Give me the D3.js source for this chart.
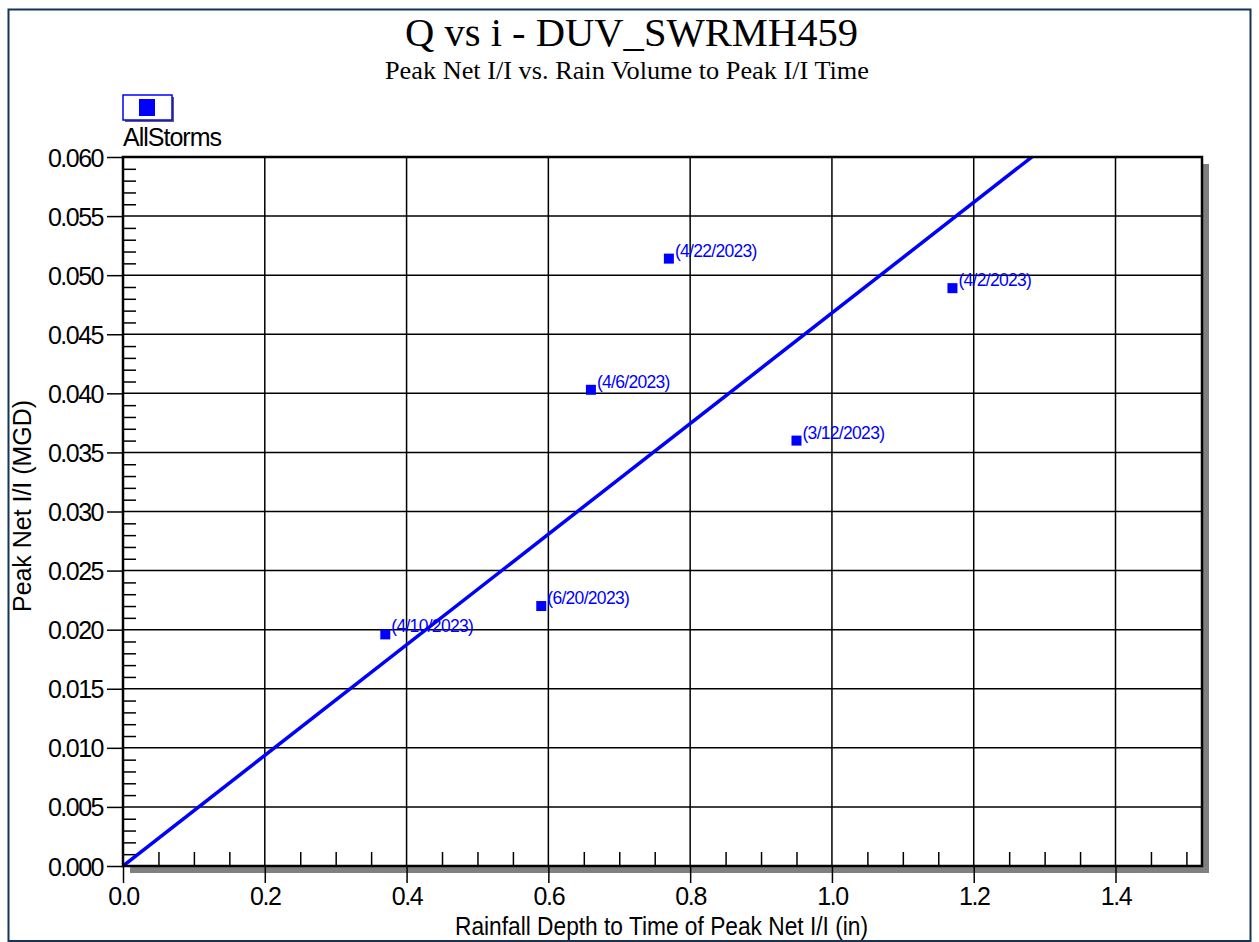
<!DOCTYPE html>
<html>
<head>
<meta charset="utf-8">
<script src="https://cdn.jsdelivr.net/npm/d3@7"></script>
<style>
  html, body { margin: 0; padding: 0; background: #fff; }
  svg { display: block; }
  .sans { font-family: "Liberation Sans", Arial, sans-serif; }
  .serif { font-family: "Liberation Serif", "Times New Roman", serif; }
</style>
</head>
<body>
<svg id="chart" width="1259" height="942"></svg>
<script>
// Storm events: rainfall depth to time of peak (in) and peak net I/I (MGD)
const stormDates = ["4/22/2023", "4/6/2023", "4/2/2023", "3/12/2023", "4/10/2023", "6/20/2023"];
const rainDepth  = [0.77, 0.66, 1.17, 0.95, 0.37, 0.59];
const peakNetII  = [0.0514, 0.0403, 0.0489, 0.0360, 0.0196, 0.0220];

// Fitted line through the origin (MGD per inch of rain)
const trendSlope = 0.0468;

// Axis ticks
const xTicks = [0.0, 0.2, 0.4, 0.6, 0.8, 1.0, 1.2, 1.4];
const yTicks = [0.000, 0.005, 0.010, 0.015, 0.020, 0.025, 0.030, 0.035, 0.040, 0.045, 0.050, 0.055, 0.060];
const xDomain = [0, 1.522];
const yDomain = [0, 0.060];

const titleText = "Q vs i - DUV_SWRMH459";
const subtitleText = "Peak Net I/I vs. Rain Volume to Peak I/I Time";
const xLabel = "Rainfall Depth to Time of Peak Net I/I (in)";
const yLabel = "Peak Net I/I (MGD)";
const seriesName = "AllStorms";

const svg = d3.select("#chart");
const W = 1259, H = 942;
const plot = { left: 123, top: 157, right: 1202, bottom: 866 };

const x = d3.scaleLinear().domain(xDomain).range([plot.left, plot.right]);
const y = d3.scaleLinear().domain(yDomain).range([plot.bottom, plot.top]);

const BLUE = "#0000ff";

// Outer frame
svg.append("rect")
  .attr("x", 8.5).attr("y", 9.5).attr("width", W - 17).attr("height", H - 10.5)
  .attr("fill", "#fff").attr("stroke", "#15345a").attr("stroke-width", 2);

// Titles
svg.append("text").attr("class", "serif")
  .attr("x", 405).attr("y", 46)
  .attr("font-size", 39).attr("textLength", 453).attr("lengthAdjust", "spacingAndGlyphs")
  .text(titleText);
svg.append("text").attr("class", "serif")
  .attr("x", 385).attr("y", 79)
  .attr("font-size", 25).attr("textLength", 484).attr("lengthAdjust", "spacingAndGlyphs")
  .text(subtitleText);

// Plot shadow and background
svg.append("rect")
  .attr("x", plot.left + 7).attr("y", plot.top + 7)
  .attr("width", plot.right - plot.left).attr("height", plot.bottom - plot.top)
  .attr("fill", "#808080");
svg.append("rect")
  .attr("x", plot.left).attr("y", plot.top)
  .attr("width", plot.right - plot.left).attr("height", plot.bottom - plot.top)
  .attr("fill", "#fff");

// Grid lines
const grid = svg.append("g");
grid.selectAll("line.vg").data(xTicks.filter(d => d > 0)).enter().append("line")
  .attr("x1", d => x(d)).attr("x2", d => x(d))
  .attr("y1", plot.top).attr("y2", plot.bottom)
  .attr("stroke", "#000").attr("stroke-width", 1.5);
grid.selectAll("line.hg").data(yTicks.filter(d => d > 0 && d < 0.06)).enter().append("line")
  .attr("x1", plot.left).attr("x2", plot.right)
  .attr("y1", d => y(d)).attr("y2", d => y(d))
  .attr("stroke", "#000").attr("stroke-width", 1.5);

// Minor ticks (inside the plot)
const xMinor = d3.range(0.05, 1.52, 0.05).filter(v => Math.abs(v / 0.2 - Math.round(v / 0.2)) > 1e-6);
const yMinor = d3.range(0.001, 0.06, 0.001).filter(v => Math.abs(v / 0.005 - Math.round(v / 0.005)) > 1e-6);

const xMinorAxis = d3.axisTop(x).tickValues(xMinor).tickSize(14).tickFormat("");
svg.append("g").attr("transform", `translate(0,${plot.bottom})`).call(xMinorAxis)
  .call(g => g.select(".domain").remove())
  .call(g => g.selectAll("line").attr("stroke", "#000").attr("stroke-width", 1.5));

const yMinorAxis = d3.axisRight(y).tickValues(yMinor).tickSize(13).tickFormat("");
svg.append("g").attr("transform", `translate(${plot.left},0)`).call(yMinorAxis)
  .call(g => g.select(".domain").remove())
  .call(g => g.selectAll("line").attr("stroke", "#000").attr("stroke-width", 1.5));

// Major axes
const xAxis = d3.axisBottom(x).tickValues(xTicks).tickSize(17).tickPadding(4)
  .tickFormat(d3.format(".1f"));
svg.append("g").attr("transform", `translate(0,${plot.bottom})`).call(xAxis)
  .call(g => g.select(".domain").remove())
  .call(g => g.selectAll("line").attr("stroke", "#000").attr("stroke-width", 1.5))
  .call(g => g.selectAll("text").attr("class", "sans").attr("font-size", 25)
    .attr("fill", "#000").attr("letter-spacing", "-1.4px").attr("dy", "0.72em"));

const yAxis = d3.axisLeft(y).tickValues(yTicks).tickSize(16).tickPadding(4)
  .tickFormat(d3.format(".3f"));
svg.append("g").attr("transform", `translate(${plot.left},0)`).call(yAxis)
  .call(g => g.select(".domain").remove())
  .call(g => g.selectAll("line").attr("stroke", "#000").attr("stroke-width", 1.5))
  .call(g => g.selectAll("text").attr("class", "sans").attr("font-size", 25)
    .attr("fill", "#000").attr("letter-spacing", "-1.5px").attr("dy", "0.36em"));

// Trend line, clipped to the plot area
svg.append("clipPath").attr("id", "plotClip").append("rect")
  .attr("x", plot.left).attr("y", plot.top)
  .attr("width", plot.right - plot.left).attr("height", plot.bottom - plot.top);
const xEnd = xDomain[1];
svg.append("line").attr("clip-path", "url(#plotClip)")
  .attr("x1", x(0)).attr("y1", y(0))
  .attr("x2", x(xEnd)).attr("y2", y(trendSlope * xEnd))
  .attr("stroke", BLUE).attr("stroke-width", 3.5);

// Plot frame
svg.append("rect")
  .attr("x", plot.left).attr("y", plot.top)
  .attr("width", plot.right - plot.left).attr("height", plot.bottom - plot.top)
  .attr("fill", "none").attr("stroke", "#000").attr("stroke-width", 2.5);

// Storm points and date labels
const pts = stormDates.map((d, i) => ({ date: d, x: rainDepth[i], y: peakNetII[i] }));
const M = 10;
svg.append("g").selectAll("rect").data(pts).enter().append("rect")
  .attr("x", d => x(d.x) - M / 2).attr("y", d => y(d.y) - M / 2)
  .attr("width", M).attr("height", M).attr("fill", BLUE);
svg.append("g").selectAll("text").data(pts).enter().append("text")
  .attr("class", "sans")
  .attr("x", d => x(d.x) + 6).attr("y", d => y(d.y) - 2)
  .attr("font-size", 17.5).attr("letter-spacing", "-0.7px").attr("fill", BLUE)
  .text(d => `(${d.date})`);

// Legend
const leg = svg.append("g");
leg.append("rect").attr("x", 125).attr("y", 97).attr("width", 49).attr("height", 25).attr("fill", "#606060");
leg.append("rect").attr("x", 123).attr("y", 95).attr("width", 49).attr("height", 25)
  .attr("fill", "#fff").attr("stroke", BLUE).attr("stroke-width", 1.5);
leg.append("rect").attr("x", 139).attr("y", 99).attr("width", 16).attr("height", 17).attr("fill", BLUE);
leg.append("text").attr("class", "sans").attr("x", 123).attr("y", 146)
  .attr("font-size", 25).attr("letter-spacing", "-1px").text(seriesName);

// Axis titles
svg.append("text").attr("class", "sans")
  .attr("x", 455).attr("y", 935)
  .attr("font-size", 25).attr("textLength", 413).attr("lengthAdjust", "spacingAndGlyphs")
  .text(xLabel);
svg.append("text").attr("class", "sans")
  .attr("transform", "translate(31,612) rotate(-90)")
  .attr("font-size", 25).attr("textLength", 212).attr("lengthAdjust", "spacingAndGlyphs")
  .text(yLabel);
</script>
</body>
</html>
